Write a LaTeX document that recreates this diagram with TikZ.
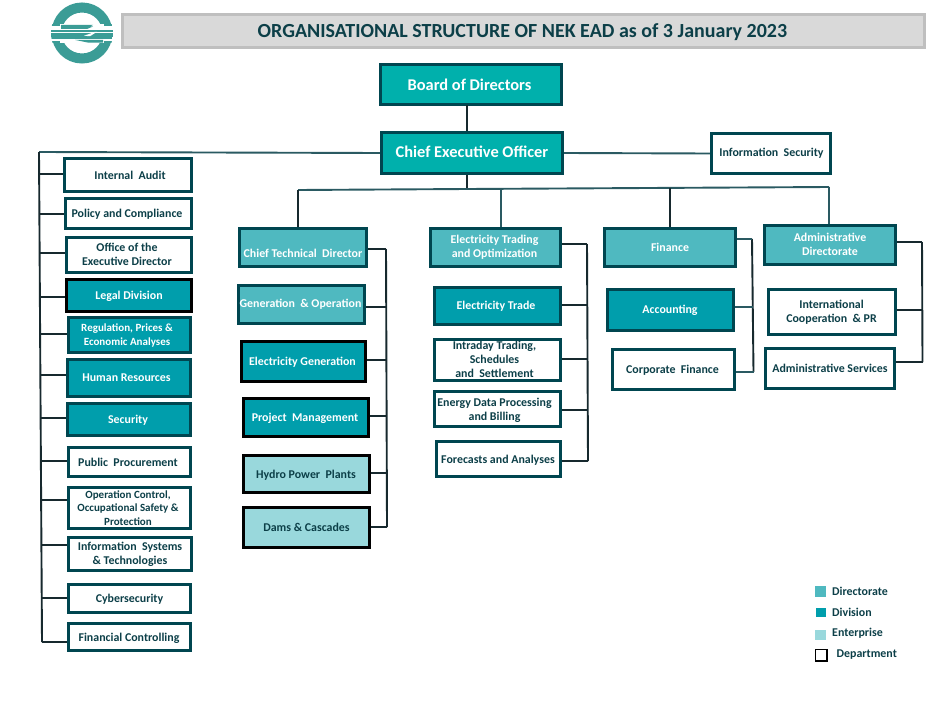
\documentclass[tikz,border=0pt]{standalone}
\usepackage{fontspec}
\setmainfont{Carlito}
\definecolor{edge}{HTML}{004650}
\definecolor{ink}{HTML}{0C3F48}
\definecolor{wire}{HTML}{17292E}
\definecolor{wireb}{HTML}{2A5A62}
\definecolor{topc}{HTML}{00B0AC}
\definecolor{dirc}{HTML}{4FB9C0}
\definecolor{divc}{HTML}{009EAC}
\definecolor{entc}{HTML}{99D8DC}
\definecolor{logoc}{HTML}{3B9C96}
\tikzset{
  base/.style={draw=edge,line width=2.9pt,inner sep=0pt,align=center,font=\bfseries\fontsize{11.9}{14}\selectfont},
  dept/.style={base,fill=white,text=ink},
  divi/.style={base,fill=divc,text=white},
  dirb/.style={base,fill=dirc,text=white},
  ente/.style={base,fill=entc,text=ink,draw=black},
  blk/.style={draw=black},
  topb/.style={base,fill=topc,text=white,font=\bfseries\fontsize{16.4}{19}\selectfont},
  small/.style={font=\bfseries\fontsize{11}{13.2}\selectfont},
  conn/.style={draw=wire,line width=1.9pt},
  connb/.style={draw=wireb,line width=1.9pt},
  legtxt/.style={anchor=west,inner sep=0pt,text=ink,font=\bfseries\fontsize{11.9}{14}\selectfont}
}
% #1 name, #2 x1, #3 y1, #4 x2, #5 y2, #6 style, #7 dx, #8 dy, #9 text
\newcommand{\bx}[9]{%
  \pgfmathsetmacro{\bw}{#4-#2-0.6}\pgfmathsetmacro{\bh}{#5-#3-0.6}%
  \pgfmathsetmacro{\bcx}{(#2+#4)/2}\pgfmathsetmacro{\bcy}{(#3+#5)/2}%
  \pgfmathsetmacro{\tcx}{\bcx+#7}\pgfmathsetmacro{\tcy}{\bcy+#8}%
  \node[#6,minimum width=\bw pt,minimum height=\bh pt] (#1) at (\bcx,\bcy) {};
  \node[#6,draw=none,fill=none] (#1-t) at (\tcx,\tcy) {#9};}
\begin{document}
\begin{tikzpicture}[x=1pt,y=-1pt]
\useasboundingbox (0,0) rectangle (941,706);
\fill[white] (0,0) rectangle (941,706);
% logo
\begin{scope}
 \draw[logoc,line width=10pt] (82,33) circle (25.5);
 \fill[white] (51,24) rectangle (113,43);
 \clip (82,33) circle (31);
 \fill[logoc] (51,29.8) rectangle (113,32.2);
 \fill[logoc] (51,33) rectangle (113,35.6);
 \fill[logoc] (51,36.4) rectangle (113,39.2);
 \fill[logoc] (61,25) -- (93,25) -- (90,26.5) -- (93,26.5) -- (87,29) -- (61,29) -- cycle;
 \fill[logoc] (75,39.9) -- (103,39.9) -- (103,42.6) -- (88,42.6) -- cycle;
 \fill[white] (84,35.8) -- (95,31.8) -- (97,31.8) -- (90,36.2) -- cycle;
 \fill[logoc] (51,24) rectangle (60,26);
 \fill[logoc] (104,24) rectangle (113,26);
 \fill[logoc] (51,41) rectangle (60,43);
 \fill[logoc] (104,41) rectangle (113,43);
\end{scope}
% title
\node[draw=black!25,fill=black!15,line width=3pt,minimum width=802pt,minimum height=33pt,inner sep=0pt] (title) at (523,31.5) {};
\node[inner sep=0pt,text=ink,font=\bfseries\fontsize{20}{24}\selectfont] (title-t) at (522.4,32.3) {ORGANISATIONAL STRUCTURE OF NEK EAD as of 3 January 2023};
% boxes
\bx{board}{380}{64}{562}{105}{topb}{-1.5}{0}{Board of Directors}
\bx{ceo}{381}{132}{563}{174}{topb}{0}{-1}{Chief Executive Officer}
\bx{isec}{711}{133}{831}{174}{dept}{0.5}{0}{Information\ \ Security}
\bx{a1}{64}{158}{192}{192}{dept}{2}{0}{Internal\ \ Audit}
\bx{a2}{65}{198}{192}{229}{dept}{-1.5}{1}{Policy and Compliance}
\bx{a3}{66}{237}{192}{273}{dept}{-2}{-0.5}{Office of the\\Executive Director}
\bx{a4}{66}{279}{192}{312}{divi,blk}{0}{1}{Legal Division}
\bx{a5}{68}{317}{191}{353}{divi,small}{-2.5}{0.5}{Regulation, Prices \&\\Economic Analyses}
\bx{a6}{67}{359}{191}{397}{divi}{-2.5}{0}{Human Resources}
\bx{a7}{67}{403}{191}{436}{divi}{-1}{1}{Security}
\bx{a8}{68}{447}{191}{477}{dept}{-1.5}{0.5}{Public\ \ Procurement}
\bx{a9}{68}{487}{191}{529}{dept,small}{-1.5}{0}{Operation Control,\\Occupational Safety \&\\Protection}
\bx{a10}{68}{537}{192}{571}{dept}{0}{0}{Information\ \ Systems\\\& Technologies}
\bx{a11}{68}{584}{191}{613}{dept}{0}{0.7}{Cybersecurity}
\bx{a12}{68}{623}{191}{651}{dept}{-.5}{1}{Financial Controlling}
\bx{b0}{239}{228}{367}{267}{dirb}{0}{6}{Chief Technical\ \ Director}
\bx{b1}{238}{285}{365}{324}{dirb}{-1}{0}{Generation\ \ \& Operation}
\bx{b2}{241}{341}{366}{382}{divi,blk}{-1}{1}{Electricity Generation}
\bx{b3}{243}{398}{369}{437}{divi,blk}{-1}{0.5}{Project\ \ Management}
\bx{b4}{243}{455}{370}{493}{ente}{-.5}{1}{Hydro Power\ \ Plants}
\bx{b5}{243}{507}{370}{548}{ente}{0}{0}{Dams \& Cascades}
\bx{c0}{430}{228}{561}{267}{dirb}{-1}{-.5}{Electricity Trading\\and Optimization}
\bx{c1}{434}{287}{561}{325}{divi}{-1.5}{0}{Electricity Trade}
\bx{c2}{434}{339}{561}{381}{dept}{-3}{-1}{Intraday Trading,\\Schedules\\and\ \ Settlement}
\bx{c3}{434}{391}{561}{427}{dept}{-3}{1}{Energy Data Processing\\and Billing}
\bx{c4}{436}{441}{561}{477}{dept}{-.5}{1}{Forecasts and Analyses}
\bx{d0}{604}{228}{736}{267}{dirb}{0}{0}{Finance}
\bx{d1}{607}{289}{734}{331}{divi}{-.5}{0}{Accounting}
\bx{d2}{612}{349}{735}{390}{dept}{-1}{.5}{Corporate\ \ Finance}
\bx{e0}{764}{225}{896}{265}{dirb}{0}{-.5}{Administrative\\Directorate}
\bx{e1}{768}{289}{896}{335}{dept}{-.5}{.5}{International\\Cooperation\ \ \& PR}
\bx{e2}{765}{348}{895}{389}{dept}{0}{0}{Administrative Services}
% named junctions
\coordinate (ltop) at (39,152);
\coordinate (lbot) at (42,642);
\coordinate (busl) at (298,190);
\coordinate (busm) at (467,189);
\coordinate (busr) at (829,187);
\coordinate (bt) at (467,105);
% top connectors
\draw[conn] (bt) -- (bt |- ceo.north);
\draw[connb] (ceo.east) -- (isec.west);
\draw[conn] (busm |- ceo.south) -- (busm);
\draw[connb] (ceo.west) -- (ltop);
\draw[conn] (ltop) -- (lbot);
\draw[connb] (busl) -- (busm) -- (busr);
\draw[conn] (busl) -- (busl |- b0.north);
\coordinate (busc) at (501,188.6);
\coordinate (busd) at (670,188);
\draw[connb] (busc) -- (busc |- c0.north);
\draw[conn] (busd) -- (busd |- d0.north);
\draw[connb] (busr) -- (busr |- e0.north);
% left rail branches
\foreach \n/\ya/\xa in {a1/174/39.2,a2/214/39.4,a3/253/39.6,a4/297/39.9,a5/334/40.1,a6/375/40.4,a7/418/40.6,a8/461/40.9,a9/500/41.1,a10/545/41.4,a11/598/41.7,a12/642/42}{
  \coordinate (j\n) at (\xa,\ya);
  \draw[conn] (j\n) -- (j\n -| \n.west);
}
% CTD rail
\coordinate (rb) at (386,249);
\coordinate (rbe) at (387,527);
\draw[conn] (rb) -- (rbe);
\foreach \n/\ya/\xa in {b0/249/386,b1/307/386.2,b2/360/386.4,b3/416/386.6,b4/473/386.8,b5/527/387}{
  \coordinate (j\n) at (\xa,\ya);
  \draw[conn] (j\n) -- (j\n -| \n.east);
}
% Trading rail
\coordinate (rc) at (587,244);
\coordinate (rce) at (588,461);
\draw[conn] (rc) -- (rce);
\foreach \n/\ya/\xa in {c0/244/587,c1/305/587.3,c2/359/587.5,c3/410/587.8,c4/461/588}{
  \coordinate (j\n) at (\xa,\ya);
  \draw[conn] (j\n) -- (j\n -| \n.east);
}
% Finance rail
\coordinate (rd) at (752,239);
\coordinate (rde) at (753.5,372);
\draw[conn] (rd) -- (rde);
\foreach \n/\ya/\xa in {d0/239/752,d1/307/752.8,d2/372/753.5}{
  \coordinate (j\n) at (\xa,\ya);
  \draw[connb] (j\n) -- (j\n -| \n.east);
}
% Admin rail
\coordinate (re) at (922,242);
\coordinate (ree) at (922.5,362);
\draw[conn] (re) -- (ree);
\foreach \n/\ya/\xa in {e0/242/922,e1/310/922.2,e2/362/922.5}{
  \coordinate (j\n) at (\xa,\ya);
  \draw[conn] (j\n) -- (j\n -| \n.east);
}
% legend
\fill[dirc] (815,586) rectangle (826,597);
\fill[divc] (816,608) rectangle (826,617);
\fill[entc] (815,630) rectangle (826,640);
\draw[black,line width=1.2pt,fill=white] (815.6,649.6) rectangle (827,661);
\node[legtxt] (l1) at (832,591) {Directorate};
\node[legtxt] (l2) at (832,612) {Division};
\node[legtxt] (l3) at (832,633.4) {Enterprise};
\node[legtxt] (l4) at (836.5,654.6) {Department};
\end{tikzpicture}
\end{document}
